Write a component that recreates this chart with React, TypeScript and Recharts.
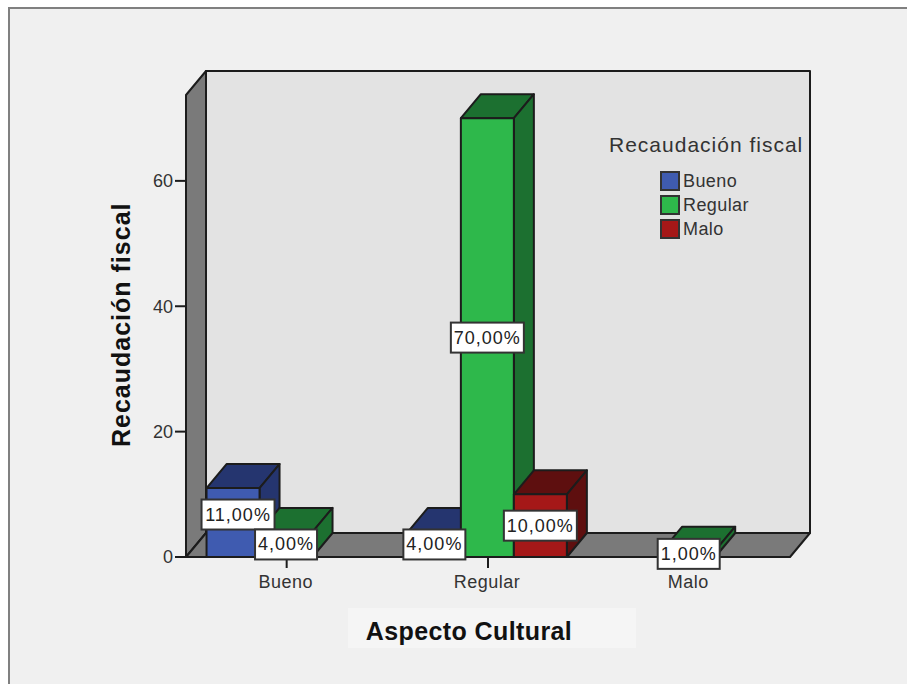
import { BarChart, Bar, XAxis, YAxis, ReferenceArea, Legend, LabelList, Label } from 'recharts'

const categories = ['Bueno', 'Regular', 'Malo']
const bueno = [11, 4, null]
const regular = [4, 70, 1]
const malo = [null, 10, null]
const yTicks = [0, 20, 40, 60]
const yMax = 73.7

const chartData = categories.map((name, i) => ({
  name,
  Bueno: bueno[i],
  Regular: regular[i],
  Malo: malo[i],
}))

// offset of the back plane of the fake 3D box
const DX = 20
const DY = -24
const LINE = '#1c1c1c'

const colors: Record<string, { front: string; dark: string }> = {
  Bueno: { front: '#3f5bb0', dark: '#25356f' },
  Regular: { front: '#2eb84b', dark: '#1c7030' },
  Malo: { front: '#a51818', dark: '#5e0f0f' },
}

function Box(props: any) {
  const { x, y, width, height, fill } = props
  if (!height || height <= 0) return null
  const dark = Object.values(colors).find((c) => c.front === fill)?.dark
  const r = x + width
  const b = y + height
  return (
    <g stroke={LINE} strokeWidth={2} strokeLinejoin="round">
      <path d={`M${x},${y} L${x + DX},${y + DY} L${r + DX},${y + DY} L${r},${y} Z`} fill={dark} />
      <path d={`M${r},${y} L${r + DX},${y + DY} L${r + DX},${b + DY} L${r},${b} Z`} fill={dark} />
      <rect x={x} y={y} width={width} height={height} fill={fill} />
    </g>
  )
}

function Walls(props: any) {
  const { x, y, width, height } = props
  const r = x + width
  const b = y + height
  return (
    <g stroke={LINE} strokeWidth={2} strokeLinejoin="round">
      <rect x={x + DX} y={y + DY} width={width} height={height} fill="#e3e3e3" />
      <path d={`M${x},${y} L${x + DX},${y + DY} L${x + DX},${b + DY} L${x},${b} Z`} fill="#7a7a7a" />
      <path d={`M${x},${b} L${x + DX},${b + DY} L${r + DX},${b + DY} L${r},${b} Z`} fill="#7a7a7a" />
    </g>
  )
}

function ValueTag(props: any) {
  const { x, y, width, height, value } = props
  if (value == null) return null
  const text = `${value.toFixed(2).replace('.', ',')}%`
  const w = text.length > 5 ? 73 : 62
  const h = 30
  // the 11% tag sits up and to the right of its bar in the original
  const cx = x + width / 2 + (value === 11 ? 5 : 0)
  const cy = y + height / 2 + (value === 11 ? -8 : 0)
  return (
    <g>
      <rect x={cx - w / 2} y={cy - h / 2} width={w} height={h} fill="#fff" stroke="#333" strokeWidth={2} />
      <text x={cx} y={cy + 6} textAnchor="middle" fontSize={18} letterSpacing={1} fontFamily="Liberation Sans" fill="#222">
        {text}
      </text>
    </g>
  )
}

function LegendBox({ payload }: any) {
  return (
    <div style={{ fontFamily: 'Liberation Sans', color: '#333' }}>
      <div style={{ fontSize: 21, letterSpacing: 1, whiteSpace: 'nowrap', height: 26, lineHeight: '26px' }}>
        Recaudación fiscal
      </div>
      <div style={{ marginLeft: 51, marginTop: 11 }}>
        {(payload || []).map((p: any) => (
          <div key={p.value} style={{ display: 'flex', alignItems: 'center', height: 24 }}>
            <span style={{ width: 16, height: 16, background: p.color, border: '2px solid #333', marginRight: 3 }} />
            <span style={{ fontSize: 18, letterSpacing: 0.4 }}>{p.value}</span>
          </div>
        ))}
      </div>
    </div>
  )
}

function XTitle(props: any) {
  const { viewBox } = props
  const cx = viewBox.x + viewBox.width / 2
  return (
    <g>
      <rect x={348} y={608} width={288} height={40} fill="#f5f5f5" />
      <text x={cx - 19} y={640} textAnchor="middle" fontSize={25} letterSpacing={0.4} fontWeight={700} fontFamily="Liberation Sans" fill="#111">
        Aspecto Cultural
      </text>
    </g>
  )
}

export default function App() {
  return (
    <div style={{ position: 'absolute', left: 0, top: 0, width: 907, height: 684, overflow: 'hidden', background: '#fff' }}>
      <div
        style={{
          position: 'absolute',
          left: 8,
          top: 7,
          width: 899,
          height: 677,
          boxSizing: 'border-box',
          background: '#f0f0f0',
          borderLeft: '2px solid #808080',
          borderTop: '2px solid #808080',
        }}
      />
      <div style={{ position: 'absolute', left: 0, top: 0 }}>
        <BarChart
          width={907}
          height={684}
          data={chartData}
          margin={{ top: 95, right: 117, left: 126, bottom: 67 }}
          barCategoryGap="10.2%"
          barGap={0}
        >
          <ReferenceArea x1="Bueno" x2="Malo" y1={0} y2={yMax} shape={<Walls />} ifOverflow="visible" />
          <XAxis
            dataKey="name"
            height={60}
            axisLine={false}
            tickSize={11}
            tickLine={{ stroke: LINE, strokeWidth: 2 }}
            tick={{ fill: '#333', fontSize: 18, letterSpacing: 0.5, dy: 5, dx: -1, fontFamily: 'Liberation Sans' }}
          >
            <Label content={<XTitle />} />
          </XAxis>
          <YAxis
            width={60}
            domain={[0, yMax]}
            ticks={yTicks}
            axisLine={false}
            tickSize={11}
            tickLine={{ stroke: LINE, strokeWidth: 2 }}
            tick={{ fill: '#333', fontSize: 18, fontFamily: 'Liberation Sans' }}
          >
            <Label
              value="Recaudación fiscal"
              angle={-90}
              position="insideLeft"
              dx={-10}
              dy={121}
              style={{ fontSize: 25, letterSpacing: 1, fontWeight: 700, fontFamily: 'Liberation Sans', fill: '#111' }}
            />
          </YAxis>
          <Legend
            layout="vertical"
            align="center"
            verticalAlign="middle"
            itemSorter={null}
            wrapperStyle={{ left: 609, top: 132, width: 210 }}
            content={<LegendBox />}
          />
          {categories.map((s) => (
            <Bar key={s} dataKey={s} fill={colors[s].front} shape={<Box />} isAnimationActive={false}>
              <LabelList dataKey={s} content={<ValueTag />} />
            </Bar>
          ))}
        </BarChart>
      </div>
    </div>
  )
}
